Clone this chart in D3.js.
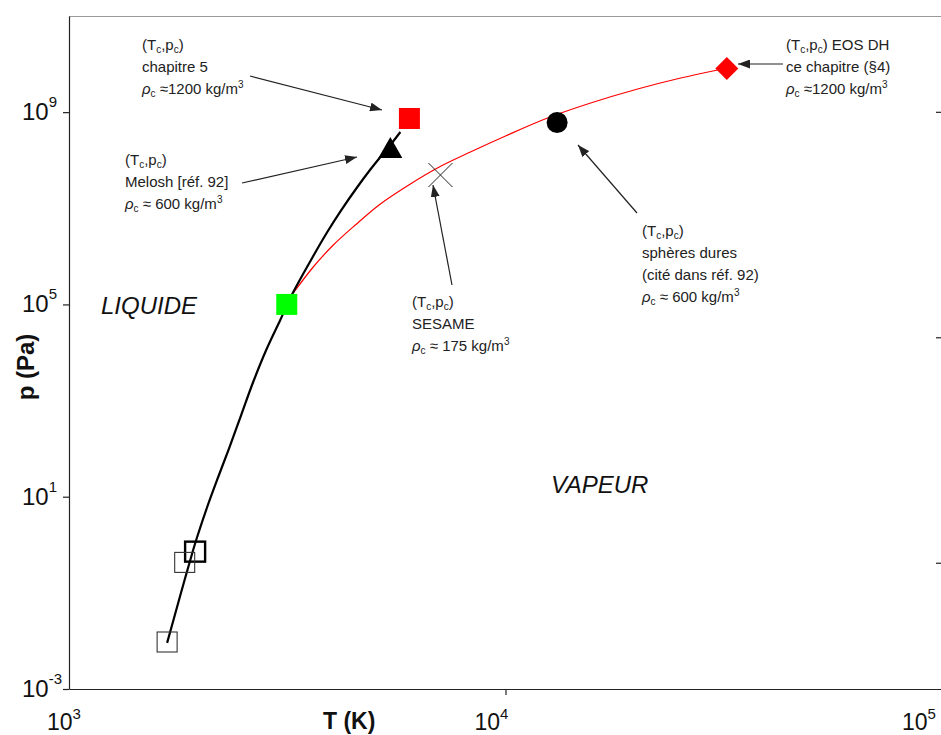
<!DOCTYPE html>
<html><head><meta charset="utf-8">
<script src="https://cdn.jsdelivr.net/npm/d3@7/dist/d3.min.js"></script>
<style>body{margin:0;background:#fff}svg{display:block}</style>
</head><body>
<script>
// ---- data ----
const blackT = [1678, 1797, 1925, 1966, 2073, 2197, 2328, 2480, 2642, 2830, 3048, 3265, 3627, 3906, 4183, 4577, 4902, 5168, 5447, 5743];
const blackP = [0.0091, 0.0859, 0.78, 1.45, 6.11, 25.7, 103, 501, 2432, 11270, 47400, 181000, 1.016e6, 3.21e6, 8.53e6, 2.77e7, 6.41e7, 1.17e8, 2.07e8, 3.86e8];
const redT = [3265, 3627, 4032, 4529, 5168, 6054, 6982, 8310, 10000, 12480, 15670, 20080, 25200, 30630];
const redP = [172900, 600400, 1.722e6, 4.49e6, 1.227e7, 3.2e7, 6.89e7, 1.48e8, 3.19e8, 7.55e8, 1.55e9, 3.03e9, 5.13e9, 7.53e9];
const markerKind = ["squareRed", "triangle", "squareGreen", "circle", "diamond", "cross", "hollowThick", "hollow", "hollow"];
const markerT = [6024, 5447, 3154, 13130, 32140, 7096, 1945, 1841, 1678];
const markerP = [7.38e8, 1.56e8, 1e5, 6.09e8, 8.09e9, 4.92e7, 0.72, 0.43, 0.0095];
const xTickValues = [1e3, 1e4, 1e5];
const xTickLabels = ["10^3", "10^4", "10^5"];
const yTickValues = [1e9, 1e5, 1e1, 1e-3];
const yTickLabels = ["10^9", "10^5", "10^1", "10^{-3}"];
const rightTickValues = [0, 1, 2];
const xTitle = "T (K)";
const yTitle = "p (Pa)";
const regionLabels = ["LIQUIDE", "VAPEUR"];
const noteTexts = [
  ["(T_c,p_c)", "chapitre 5", "ρ_c ≈1200 kg/m^3"],
  ["(T_c,p_c)", "Melosh [réf. 92]", "ρ_c ≈ 600 kg/m^3"],
  ["(T_c,p_c) EOS DH", "ce chapitre (§4)", "ρ_c ≈1200 kg/m^3"],
  ["(T_c,p_c)", "sphères dures", "(cité dans réf. 92)", "ρ_c ≈ 600 kg/m^3"],
  ["(T_c,p_c)", "SESAME", "ρ_c ≈ 175 kg/m^3"]
];

// ---- layout ----
const W = 941, H = 735;
const L = 69, R = 942, T0 = 16, B = 689;
const font = "'Liberation Sans', Arial, Helvetica, sans-serif";
const svg = d3.select("body").append("svg").attr("width", W).attr("height", H)
  .style("font-family", font);

const x = d3.scaleLog().domain([1e3, 1e5]).range([L, R]);
const y = d3.scaleLog().domain([1e-3, 1e11]).range([B, T0]);
const yRight = d3.scaleLinear().domain([-0.56, 2.425]).range([B, T0]);

// rich text helper: _x subscript, ^x / ^{..} superscript
function rich(textSel, str, size, subSize, supDy, subDy) {
  const re = /([_^])(\{[^}]*\}|.)|([^_^]+)/g;
  let m, shift = 0;
  while ((m = re.exec(str)) !== null) {
    if (m[3] !== undefined) {
      const parts = m[3].split(/(ρ)/);
      parts.forEach(p => {
        if (!p) return;
        const t = textSel.append("tspan").text(p).attr("font-size", size);
        if (shift) { t.attr("dy", -shift); shift = 0; }
        if (p === "ρ") t.attr("font-style", "italic");
      });
    } else {
      let s = m[2]; if (s[0] === "{") s = s.slice(1, -1);
      const d = m[1] === "^" ? supDy : subDy;
      textSel.append("tspan").text(s).attr("font-size", subSize).attr("dy", d - shift);
      shift = d;
    }
  }
}

// frame
svg.append("line").attr("x1", L).attr("x2", W).attr("y1", T0 + 0.5).attr("y2", T0 + 0.5)
  .attr("stroke", "#9a9a9a").attr("stroke-width", 1.2);

const yAxis = svg.append("g").attr("transform", `translate(${L},0)`)
  .call(d3.axisLeft(y).tickValues(yTickValues).tickSize(6).tickSizeOuter(0).tickFormat(""));
const xAxis = svg.append("g").attr("transform", `translate(0,${B})`)
  .call(d3.axisBottom(x).tickValues([1e4]).tickSize(6).tickSizeOuter(0).tickFormat(""));
const rAxis = svg.append("g").attr("transform", `translate(${W},0)`)
  .call(d3.axisLeft(yRight).tickValues(rightTickValues).tickSize(5).tickFormat(""));
rAxis.select(".domain").remove();
[yAxis, xAxis, rAxis].forEach(g => {
  g.selectAll("path,line").attr("stroke", "#222").attr("stroke-width", 1.2);
});

// tick labels
yTickValues.forEach((v, i) => {
  const t = svg.append("text").attr("x", 22).attr("y", y(v) + 8).attr("fill", "#111");
  rich(t, yTickLabels[i], 24, 15, -13, 0);
});
xTickValues.forEach((v, i) => {
  const t = svg.append("text").attr("x", x(v) - 22 - 9 * i).attr("y", 730).attr("fill", "#111");
  rich(t, xTickLabels[i], 23, 15, -11, 0);
});

// axis titles
svg.append("text").attr("x", 323).attr("y", 729).attr("font-size", 23).attr("font-weight", "bold")
  .attr("fill", "#111").text(xTitle);
svg.append("text").attr("transform", "translate(34,367) rotate(-90)").attr("text-anchor", "middle")
  .attr("font-size", 24).attr("font-weight", "bold").attr("fill", "#111").text(yTitle);

// region labels
svg.append("text").attr("x", 101).attr("y", 314).attr("font-size", 24).attr("font-style", "italic")
  .attr("fill", "#111").text(regionLabels[0]);
svg.append("text").attr("x", 551).attr("y", 493).attr("font-size", 24).attr("font-style", "italic")
  .attr("fill", "#111").text(regionLabels[1]);

// curves
const line = d3.line().x(d => x(d[0])).y(d => y(d[1])).curve(d3.curveCatmullRom.alpha(0.5));
svg.append("path").datum(redT.map((t, i) => [t, redP[i]])).attr("d", line)
  .attr("fill", "none").attr("stroke", "#ff0000").attr("stroke-width", 1.2);
svg.append("path").datum(blackT.map((t, i) => [t, blackP[i]])).attr("d", line)
  .attr("fill", "none").attr("stroke", "#000").attr("stroke-width", 2.2);

// markers
markerKind.forEach((k, i) => {
  const cx = x(markerT[i]), cy = y(markerP[i]);
  if (k === "squareRed" || k === "squareGreen") {
    svg.append("rect").attr("x", cx - 10.5).attr("y", cy - 10.5).attr("width", 21).attr("height", 21)
      .attr("fill", k === "squareRed" ? "#ff0000" : "#00ff00");
  } else if (k === "triangle") {
    svg.append("path").attr("d", `M${cx},${cy - 14}L${cx + 12},${cy + 7}L${cx - 12},${cy + 7}Z`).attr("fill", "#000");
  } else if (k === "circle") {
    svg.append("circle").attr("cx", cx).attr("cy", cy).attr("r", 10.5).attr("fill", "#000");
  } else if (k === "diamond") {
    svg.append("path").attr("d", `M${cx},${cy - 11.5}L${cx + 11.5},${cy}L${cx},${cy + 11.5}L${cx - 11.5},${cy}Z`).attr("fill", "#ff0000");
  } else if (k === "cross") {
    svg.append("path").attr("d", `M${cx - 12},${cy - 12}L${cx + 12},${cy + 12}M${cx + 12},${cy - 12}L${cx - 12},${cy + 12}`)
      .attr("stroke", "#222").attr("stroke-width", 1);
  } else {
    const thick = k === "hollowThick";
    svg.append("rect").attr("x", cx - 10).attr("y", cy - 10).attr("width", 20).attr("height", 20)
      .attr("fill", "none").attr("stroke", thick ? "#000" : "#333").attr("stroke-width", thick ? 2.4 : 1.1);
  }
});

// arrows
const defs = svg.append("defs");
defs.append("marker").attr("id", "ah").attr("viewBox", "0 0 12 9").attr("refX", 12).attr("refY", 4.5)
  .attr("markerWidth", 12).attr("markerHeight", 9).attr("markerUnits", "userSpaceOnUse").attr("orient", "auto")
  .append("path").attr("d", "M0,0L12,4.5L0,9Z").attr("fill", "#222");
const arrows = [[250, 76, 382, 110], [242, 183, 357, 157], [783, 64, 738, 64], [637, 213, 578, 145], [452, 285, 433, 185]];
arrows.forEach(a => {
  svg.append("line").attr("x1", a[0]).attr("y1", a[1]).attr("x2", a[2]).attr("y2", a[3])
    .attr("stroke", "#222").attr("stroke-width", 1.2).attr("marker-end", "url(#ah)");
});

// annotation texts
const notePos = [[142, 50], [125, 165], [786, 50], [642, 236], [412, 307]];
noteTexts.forEach((lines, j) => {
  lines.forEach((s, k) => {
    const t = svg.append("text").attr("x", notePos[j][0]).attr("y", notePos[j][1] + k * 22).attr("fill", "#222");
    rich(t, s, 15, 10, -6, 3);
  });
});
</script>
</body></html>
